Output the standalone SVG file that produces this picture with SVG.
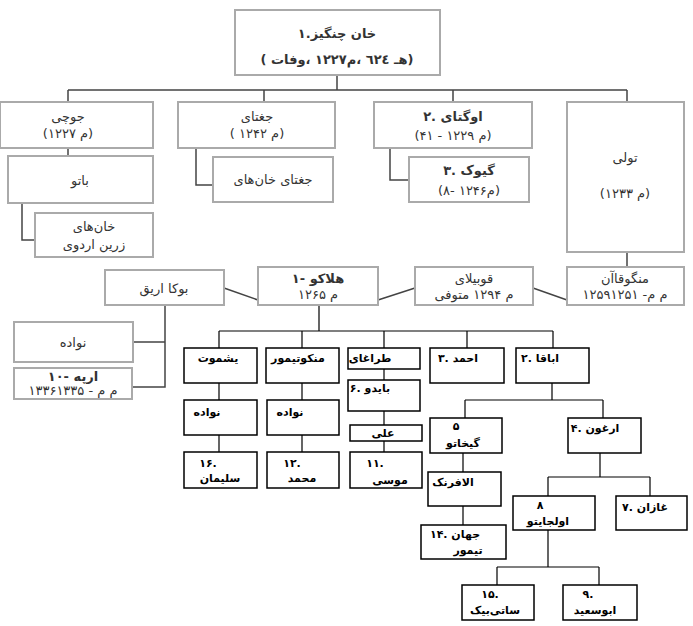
<svg xmlns="http://www.w3.org/2000/svg" width="693" height="626" viewBox="0 0 693 626">
<style>
.g{fill:#fff;stroke:#aaa;stroke-width:2}
.b{fill:#fff;stroke:#000;stroke-width:1.5}
.lg{fill:none;stroke:#444;stroke-width:1.5}
.lb{fill:none;stroke:#000;stroke-width:1.2}
text{direction:ltr}
.tg{font-family:"DejaVu Sans",sans-serif;font-size:13px;fill:#333;text-anchor:middle}
.tb{font-family:"DejaVu Sans",sans-serif;font-size:11px;font-weight:bold;fill:#000;text-anchor:middle}
</style>
<g id="connectors">
<path class="lg" d="M337 75V90M68 90H627M68 90V103M264 90V103M453 90V103M627 90V103"/>
<path class="lg" d="M68 148V156M22 203V240H35M196 148V185H213M390 148V180H409M627 252V267"/>
<path class="lg" d="M224 288L258 300M378 300L415 288M533 288L567 300"/>
<path class="lg" d="M165 305V387H133M165 342H133"/>
<path class="lb" d="M319 305V331M219 331H553M219 331V348M302 331V348M384 331V348M467 331V348M553 331V348"/>
<path class="lb" d="M219 383V400M219 435V452M302 383V400M302 435V452M384 369V380M384 411V425M384 441V452"/>
<path class="lb" d="M552 383V400M465 400H603M465 400V418M603 400V418M463 453V472M463 506V525"/>
<path class="lb" d="M600 453V477M548 477H650M548 477V496M650 477V496M548 530V567M497 567H599M497 567V585M599 567V585"/>
</g>
<g id="chingiz"><rect class="g" x="235" y="10" width="205" height="65"/><text class="tg" x="337" y="38" font-size="16" font-weight="bold">&#8206;۱.&#8206;چنگیز &#8206;خان</text><text class="tg" x="337" y="64" font-size="14" font-weight="bold">&#8206;( &#8206;وفات،&#8206; ۱۲۲۷&#8206;م،&#8206; ٦٢٤&#8206; هـ)</text></g>
<g id="juchi"><rect class="g" x="0" y="102" width="153" height="46"/><text class="tg" x="68" y="121">&#8206;جوچی</text><text class="tg" x="68" y="138">&#8206;(۱۲۲۷ &#8206;م)</text></g>
<g id="jaghatai"><rect class="g" x="178" y="102" width="157" height="46"/><text class="tg" x="257" y="121">&#8206;جغتای</text><text class="tg" x="257" y="138">&#8206;( ۱۲۴۲ &#8206;م)</text></g>
<g id="ugtai"><rect class="g" x="374" y="102" width="158" height="46"/><text class="tg" x="453" y="121" font-weight="bold" font-size="15">&#8206;۲. &#8206;اوگتای</text><text class="tg" x="453" y="140">&#8206;(۴۱ - ۱۲۲۹ &#8206;م)</text></g>
<g id="tuli"><rect class="g" x="567" y="102" width="117" height="150"/><text class="tg" x="625" y="162">&#8206;تولی</text><text class="tg" x="625" y="198">&#8206;(۱۲۳۳ &#8206;م)</text></g>
<g id="batu"><rect class="g" x="8" y="156" width="145" height="47"/><text class="tg" x="80" y="185">&#8206;باتو</text></g>
<g id="khanha-ordu"><rect class="g" x="35" y="213" width="118" height="44"/><text class="tg" x="94" y="231">&#8206;خان‌های</text><text class="tg" x="94" y="249">&#8206;اردوی &#8206;زرین</text></g>
<g id="khanha-jaghatai"><rect class="g" x="213" y="157" width="120" height="45"/><text class="tg" x="273" y="184">&#8206;خان‌های &#8206;جغتای</text></g>
<g id="guyuk"><rect class="g" x="409" y="157" width="120" height="45"/><text class="tg" x="469" y="175" font-weight="bold" font-size="15">&#8206;۳. &#8206;گیوک</text><text class="tg" x="469" y="195">&#8206;(۸- ۱۲۴۶&#8206;م)</text></g>
<g id="mengu"><rect class="g" x="567" y="267" width="117" height="38"/><text class="tg" x="625" y="283">&#8206;منگوقاآن</text><text class="tg" x="625" y="299">&#8206;۱۲۵۹&#8206;م- ۱۲۵۱ &#8206;م</text></g>
<g id="qubilai"><rect class="g" x="415" y="267" width="118" height="38"/><text class="tg" x="474" y="283">&#8206;قوبیلای</text><text class="tg" x="474" y="299">&#8206;متوفی &#8206;۱۲۹۴ &#8206;م</text></g>
<g id="hulagu"><rect class="g" x="258" y="267" width="120" height="38"/><text class="tg" x="318" y="283" font-weight="bold" font-size="15">&#8206;۱- &#8206;هلاکو</text><text class="tg" x="318" y="299">&#8206;۱۲۶۵ &#8206;م</text></g>
<g id="arigh"><rect class="g" x="105" y="270" width="119" height="35"/><text class="tg" x="164" y="293" font-size="16">&#8206;اریق &#8206;بوکا</text></g>
<g id="navadeh0"><rect class="g" x="14" y="322" width="119" height="40"/><text class="tg" x="73" y="347" font-size="15">&#8206;نواده</text></g>
<g id="arpa"><rect class="g" x="14" y="368" width="118" height="31"/><text class="tg" x="73" y="381" font-weight="bold" font-size="13">&#8206;۱۰- &#8206;ارپه</text><text class="tg" x="73" y="395" font-size="10">&#8206;۱۳۳۶&#8206;م - ۱۳۳۵ &#8206;م</text></g>
<g id="yashmut"><rect class="b" x="184" y="348" width="73" height="35"/><text class="tb" x="218" y="362" font-size="10">&#8206;یشموت</text></g>
<g id="mengutimur"><rect class="b" x="266" y="348" width="73" height="35"/><text class="tb" x="298" y="362" font-size="10">&#8206;منکوتیمور</text></g>
<g id="taraghai"><rect class="b" x="348" y="348" width="72" height="21"/><text class="tb" x="370" y="362" font-size="9">&#8206;طراغای</text></g>
<g id="ahmad"><rect class="b" x="430" y="348" width="74" height="35"/><text class="tb" x="458" y="362">&#8206;۳. &#8206;احمد</text></g>
<g id="abaqa"><rect class="b" x="516" y="348" width="73" height="35"/><text class="tb" x="540" y="362">&#8206;۲. &#8206;اباقا</text></g>
<g id="navadeh1"><rect class="b" x="184" y="400" width="73" height="35"/><text class="tb" x="207" y="416" font-size="13">&#8206;نواده</text></g>
<g id="navadeh2"><rect class="b" x="267" y="400" width="72" height="35"/><text class="tb" x="290" y="416" font-size="13">&#8206;نواده</text></g>
<g id="baidu"><rect class="b" x="348" y="380" width="72" height="31"/><text class="tb" x="370" y="392" font-size="10">&#8206;۶. &#8206;بایدو</text></g>
<g id="ali"><rect class="b" x="350" y="425" width="72" height="16"/><text class="tb" x="383" y="437" font-size="9">&#8206;علی</text></g>
<g id="soleiman"><rect class="b" x="184" y="452" width="73" height="36"/><text class="tb" x="208" y="467">&#8206;۱۶.</text><text class="tb" x="220" y="482">&#8206;سلیمان</text></g>
<g id="mohammad"><rect class="b" x="267" y="452" width="72" height="36"/><text class="tb" x="292" y="467">&#8206;۱۲.</text><text class="tb" x="302" y="482">&#8206;محمد</text></g>
<g id="musa"><rect class="b" x="350" y="452" width="72" height="36"/><text class="tb" x="375" y="467">&#8206;۱۱.</text><text class="tb" x="390" y="484">&#8206;موسی</text></g>
<g id="gaykhatu"><rect class="b" x="430" y="418" width="72" height="35"/><text class="tb" x="456" y="430">&#8206;۵</text><text class="tb" x="463" y="447">&#8206;گیخاتو</text></g>
<g id="arghun"><rect class="b" x="568" y="418" width="73" height="35"/><text class="tb" x="595" y="432">&#8206;۴. &#8206;ارغون</text></g>
<g id="alafrang"><rect class="b" x="428" y="472" width="73" height="34"/><text class="tb" x="453" y="486">&#8206;الافرنک</text></g>
<g id="jahantimur"><rect class="b" x="421" y="525" width="85" height="34"/><text class="tb" x="455" y="538">&#8206;۱۴. &#8206;جهان</text><text class="tb" x="468" y="554">&#8206;تیمور</text></g>
<g id="oljaitu"><rect class="b" x="513" y="496" width="82" height="34"/><text class="tb" x="540" y="509">&#8206;۸</text><text class="tb" x="548" y="525">&#8206;اولجایتو</text></g>
<g id="ghazan"><rect class="b" x="616" y="496" width="71" height="34"/><text class="tb" x="645" y="511">&#8206;۷. &#8206;غازان</text></g>
<g id="satibeg"><rect class="b" x="462" y="585" width="72" height="35"/><text class="tb" x="490" y="598">&#8206;۱۵.</text><text class="tb" x="495" y="614">&#8206;ساتی‌بیک</text></g>
<g id="abusaid"><rect class="b" x="563" y="585" width="74" height="35"/><text class="tb" x="588" y="598">&#8206;۹.</text><text class="tb" x="595" y="614">&#8206;ابوسعید</text></g>
</svg>
